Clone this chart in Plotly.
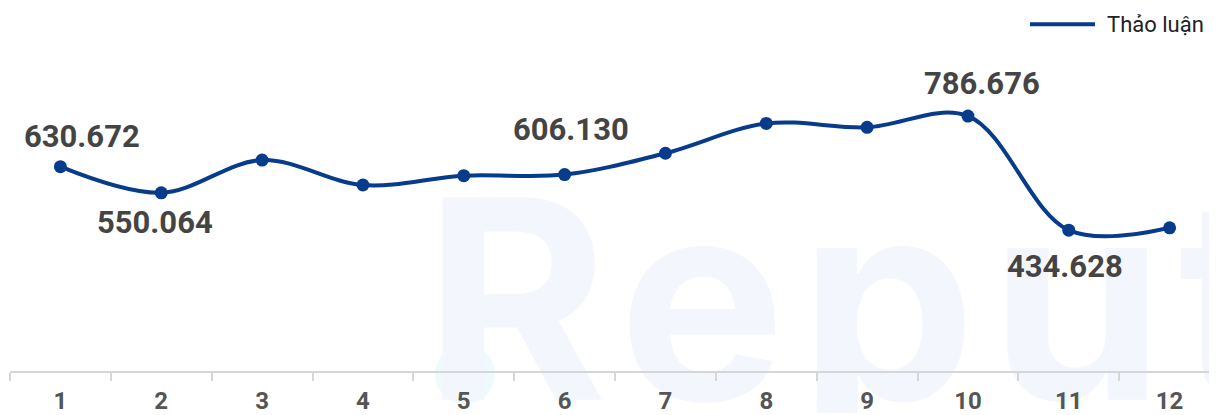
import base64
import plotly.graph_objects as go

months = ["1", "2", "3", "4", "5", "6", "7", "8", "9", "10", "11", "12"]
discussions = [630672, 550064, 651000, 574000, 603000, 606130, 672000, 764000, 752000, 786676, 434628, 442000]
series_name = "Thảo luận"

# labels shown on selected points: (index, xshift, yshift)
label_points = [(0, 22, 30), (1, -6, -30), (5, 6, 45), (9, 14, 33), (10, -4, -36)]

LINE = "#073b8c"
OFF = 8  # default body margin of the page

def fmt(v):
    return f"{v/1000:.3f}"

fig = go.Figure()
fig.add_trace(go.Scatter(
    x=months, y=[v / 1000 for v in discussions], mode="lines+markers",
    name=series_name, showlegend=False,
    line=dict(color=LINE, width=4, shape="spline", smoothing=1),
    marker=dict(color=LINE, size=13),
    cliponaxis=False,
))

for i, xs, ys in label_points:
    fig.add_annotation(x=i, y=discussions[i] / 1000, text=fmt(discussions[i]),
                       showarrow=False, xshift=xs, yshift=ys,
                       font=dict(family="Roboto", size=31, color="#444444", weight="bold"))

W, H = 1217 - OFF, 415 - OFF
L, R, T, B = 10 - OFF, 0, 47 - OFF, 42
pw, ph = W - L - R, H - T - B

# watermark as background image (page pixel coords shifted by OFF)
svg = f'''<svg xmlns="http://www.w3.org/2000/svg" width="{W}" height="{H}" viewBox="0 0 {W} {H}">
<circle cx="{465 - OFF}" cy="{376 - OFF}" r="30" fill="#eefafc"/>
<text x="{424 - OFF}" y="{402 - OFF}" font-family="Inter" font-weight="700" font-size="280" letter-spacing="14" fill="#f3f6fd">Reput</text>
</svg>'''
src = "data:image/svg+xml;base64," + base64.b64encode(svg.encode()).decode()
fig.add_layout_image(dict(source=src, xref="paper", yref="paper",
                          x=-L / pw, y=1 + T / ph, sizex=W / pw, sizey=H / ph,
                          xanchor="left", yanchor="top", sizing="stretch", layer="below"))

# custom legend
ly = 1 + (T - (24 - OFF)) / ph
fig.add_shape(type="line", xref="paper", yref="paper",
              x0=(1030 - OFF - L) / pw, x1=(1095 - OFF - L) / pw, y0=ly, y1=ly,
              line=dict(color=LINE, width=4))
fig.add_annotation(xref="paper", yref="paper", x=(1105 - OFF - L) / pw, y=ly,
                   text=series_name, showarrow=False, xanchor="left", yanchor="middle",
                   font=dict(family="Roboto", size=22, color="#222222"))

fig.update_layout(
    width=W, height=H, autosize=False,
    margin=dict(l=L, r=R, t=T, b=B, pad=0),
    paper_bgcolor="white", plot_bgcolor="rgba(0,0,0,0)",
    showlegend=False,
    xaxis=dict(type="category", range=[-0.5, 11.47], tickson="boundaries",
               ticks="outside", ticklen=8, tickcolor="#d6d6d6", tickwidth=2,
               ticklabelstandoff=7,
               showline=True, linecolor="#d6d6d6", linewidth=2, showgrid=False, zeroline=False,
               tickfont=dict(family="Roboto", size=24, color="#555555", weight="bold")),
    yaxis=dict(range=[0, 1000], visible=False, showgrid=False, zeroline=False),
)

fig.write_html("out.html")
